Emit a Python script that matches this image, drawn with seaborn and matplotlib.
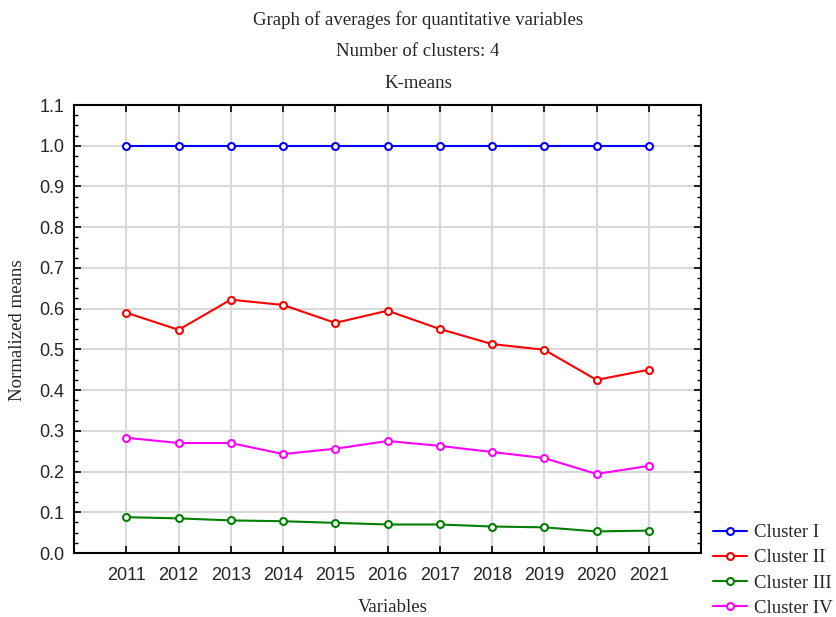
import numpy as np
import pandas as pd
import seaborn as sns
import matplotlib.pyplot as plt
from matplotlib.ticker import MultipleLocator

# Data
years = ['2011', '2012', '2013', '2014', '2015', '2016', '2017', '2018', '2019', '2020', '2021']
cluster_1 = [1.0, 1.0, 1.0, 1.0, 1.0, 1.0, 1.0, 1.0, 1.0, 1.0, 1.0]
cluster_2 = [0.590, 0.548, 0.622, 0.609, 0.565, 0.595, 0.550, 0.513, 0.499, 0.425, 0.450]
cluster_3 = [0.088, 0.085, 0.080, 0.078, 0.074, 0.070, 0.070, 0.065, 0.063, 0.053, 0.055]
cluster_4 = [0.283, 0.270, 0.270, 0.243, 0.256, 0.275, 0.263, 0.248, 0.233, 0.194, 0.214]
cluster_names = ['Cluster I', 'Cluster II', 'Cluster III', 'Cluster IV']
colors = ['#0000ff', '#ff0000', '#008000', '#ff00ff']

df = pd.DataFrame({'Variables': years})
df['pos'] = np.arange(len(years))
for name, vals in zip(cluster_names, [cluster_1, cluster_2, cluster_3, cluster_4]):
    df[name] = vals
long = df.melt(id_vars=['Variables', 'pos'], value_vars=cluster_names,
               var_name='cluster', value_name='value')

sns.set_style('white')
plt.rcParams['font.family'] = ['Liberation Sans', 'DejaVu Sans']

fig = plt.figure(figsize=(8.36, 6.17), dpi=100)
ax = fig.add_axes([74 / 836, 64 / 617, 627 / 836, 448 / 617])

for name, col in zip(cluster_names, colors):
    sub = long[long['cluster'] == name]
    sns.lineplot(data=sub, x='pos', y='value', ax=ax, color=col, label=name,
                 marker='o', markersize=5, markerfacecolor='white',
                 markeredgecolor=col, markeredgewidth=1.5, linewidth=1.5)

ax.set_xlim(-1.0, 11.0)
ax.set_ylim(0, 1.1)
ax.set_xticks(df['pos'])
ax.set_xticklabels(years)
ax.yaxis.set_major_locator(MultipleLocator(0.1))
ax.yaxis.set_minor_locator(MultipleLocator(0.025))
ax.yaxis.set_major_formatter(plt.FuncFormatter(lambda v, p: f'{v:.1f}'))
ax.tick_params(axis='both', which='both', direction='in', labelsize=13, color='black')
ax.tick_params(axis='x', which='major', length=5, width=1.2, pad=10, bottom=True, top=True)
ax.tick_params(axis='y', which='major', length=5, width=1.2, pad=7, left=True, right=True)
ax.tick_params(axis='y', which='minor', length=3, width=1, left=True, right=True)
ax.grid(True, which='major', color='#d9d9d9', linewidth=1.5)
ax.set_axisbelow(True)
for s in ax.spines.values():
    s.set_color('black')
    s.set_linewidth(1.5)

ax.set_xlabel('')
ax.set_ylabel('')
ax.get_legend().remove()

serif = ['Liberation Serif', 'DejaVu Serif']
fs = 13.5
fig.text(0.5, 1 - 20 / 617, 'Graph of averages for quantitative variables',
         ha='center', va='center', fontsize=fs, family=serif)
fig.text(0.5, 1 - 52 / 617, 'Number of clusters: 4',
         ha='center', va='center', fontsize=fs, family=serif)
fig.text(0.5, 1 - 84 / 617, 'K-means',
         ha='center', va='center', fontsize=fs, family=serif)
fig.text(393 / 836, 1 - 608 / 617, 'Variables',
         ha='center', va='center', fontsize=fs, family=serif)
fig.text(18 / 836, 1 - 330 / 617, 'Normalized means', rotation=90,
         ha='center', va='center', fontsize=fs, family=serif)

handles, labels = ax.get_legend_handles_labels()
fig.legend(handles, labels, loc='upper left', bbox_to_anchor=(713 / 836, 1 - 524 / 617),
           frameon=False, prop={'family': serif, 'size': fs},
           handlelength=1.8, handletextpad=0.4, labelspacing=0.43, borderaxespad=0,
           borderpad=0)

fig.savefig('out.png', dpi=100)
